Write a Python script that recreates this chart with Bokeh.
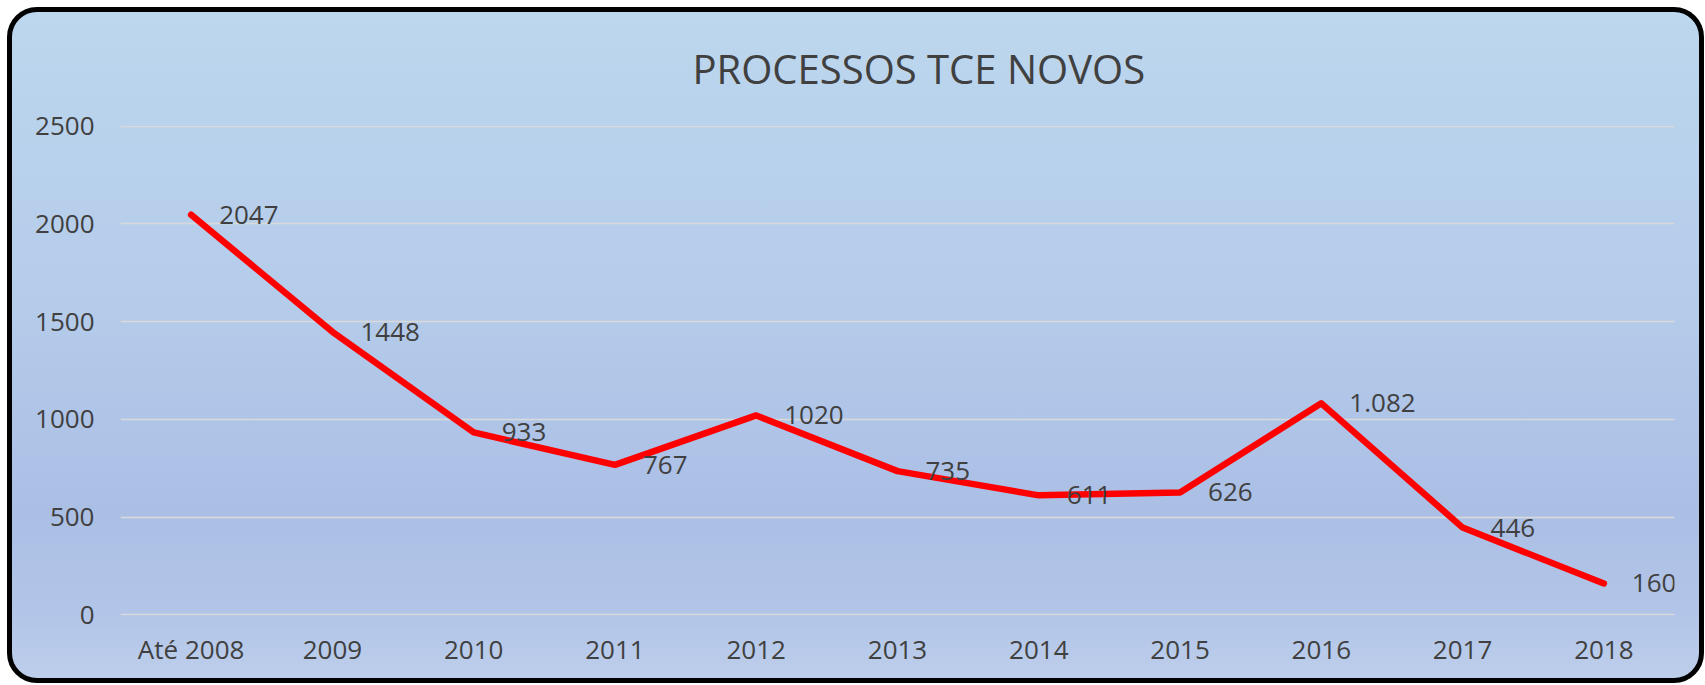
from bokeh.plotting import figure
from bokeh.models import FactorRange, Range1d, FixedTicker, ColumnDataSource
from bokeh.core.properties import value
from bokeh.embed import file_html
from bokeh.resources import INLINE

categories = ["Até 2008", "2009", "2010", "2011", "2012", "2013", "2014", "2015", "2016", "2017", "2018"]
values = [2047, 1448, 933, 767, 1020, 735, 611, 626, 1082, 446, 160]
labels = ["2047", "1448", "933", "767", "1020", "735", "611", "626", "1.082", "446", "160"]
y_ticks = [0, 500, 1000, 1500, 2000, 2500]
title_text = "PROCESSOS TCE NOVOS"

FONT = "Open Sans"
TXT = "#404040"

src = ColumnDataSource(dict(cat=categories, val=values, lab=labels))

p = figure(
    width=1697, height=676,
    x_range=FactorRange(*categories, range_padding=0),
    y_range=Range1d(-4, 2504),
    output_backend="svg", toolbar_location=None, tools="",
    min_border_left=108, min_border_right=35, min_border_top=113, min_border_bottom=73,
    background_fill_color=None, border_fill_color=None,
)
p.outline_line_color = None
p.styles = {
    "background": "linear-gradient(to bottom, #BDD7EE 0%, #B4CBEA 45%, #ABBFE5 75%, #B2C5E8 90%, #BDCEEB 100%)",
    "border": "5px solid #000000",
    "border-radius": "30px",
    "margin-left": "7px",
    "margin-top": "7px",
}

p.title.text = title_text
p.title.align = "left"
p.title.vertical_align = "top"
p.title.text_font = FONT
p.title.text_font_size = "40px"
p.title.text_font_style = "normal"
p.title.text_color = TXT
p.title.standoff = 56
p.title.offset = 572

p.xgrid.grid_line_color = None
p.ygrid.grid_line_color = "#D9D9D9"
p.ygrid.grid_line_width = 1.5
p.yaxis.ticker = FixedTicker(ticks=y_ticks)

for ax in (p.xaxis, p.yaxis):
    ax.axis_line_color = None
    ax.major_tick_line_color = None
    ax.minor_tick_line_color = None
    ax.major_label_text_font = FONT
    ax.major_label_text_font_size = "26px"
    ax.major_label_text_color = TXT
p.yaxis.major_label_standoff = 20
p.xaxis.major_label_standoff = 9

p.line("cat", "val", source=src, line_color="#FF0000", line_width=6.5,
       line_join="round", line_cap="round")
p.text("cat", "val", text="lab", source=src, x_offset=28, text_align="left",
       text_baseline="middle", text_font=value(FONT), text_font_size="26px",
       text_color=TXT)

open("out.html", "w").write(file_html(p, INLINE))
